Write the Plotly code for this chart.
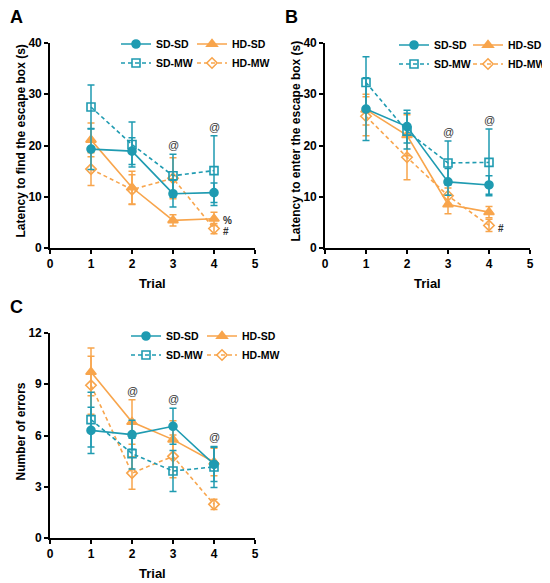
import plotly.graph_objects as go

W, H = 550, 583          # browser window
OFF = 8                  # page body margin
FW, FH = W - OFF, H - OFF
TEAL = "#1f9bb1"
ORANGE = "#f8a54c"
FONT = "Liberation Sans"

trials = [1, 2, 3, 4]
x_ticks = [0, 1, 2, 3, 4, 5]

# Panel A: latency to find the escape box (s)
a_sdsd = [19.3, 18.9, 10.6, 10.8]
a_sdsd_err = [4.0, 2.6, 2.6, 1.9]
a_sdmw = [27.5, 20.2, 14.1, 15.1]
a_sdmw_err = [4.3, 4.4, 4.2, 6.8]
a_hdsd = [21.1, 11.8, 5.4, 5.7]
a_hdsd_err = [3.3, 3.2, 1.1, 1.3]
a_hdmw = [15.4, 11.4, 13.6, 3.8]
a_hdmw_err = [3.2, 2.9, 4.0, 1.0]

# Panel B: latency to enter the escape box (s)
b_sdsd = [27.1, 23.7, 12.9, 12.3]
b_sdsd_err = [6.1, 3.2, 2.6, 1.8]
b_sdmw = [32.3, 22.8, 16.6, 16.7]
b_sdmw_err = [5.0, 3.5, 4.3, 6.5]
b_hdsd = [27.0, 22.0, 8.5, 7.0]
b_hdsd_err = [3.0, 4.0, 1.8, 1.1]
b_hdmw = [25.7, 17.7, 10.2, 4.4]
b_hdmw_err = [3.8, 4.4, 1.5, 1.2]

# Panel C: number of errors
c_sdsd = [6.3, 6.05, 6.54, 4.31]
c_sdsd_err = [1.35, 0.85, 1.05, 1.0]
c_sdmw = [6.93, 4.94, 3.92, 4.16]
c_sdmw_err = [1.6, 0.9, 1.2, 1.2]
c_hdsd = [9.72, 6.79, 5.76, 4.45]
c_hdsd_err = [1.4, 1.3, 1.1, 0.8]
c_hdmw = [8.94, 3.8, 4.78, 1.97]
c_hdmw_err = [1.7, 0.95, 1.25, 0.3]

ticks_ab = [0, 10, 20, 30, 40]
ticks_c = [0, 3, 6, 9, 12]

panel_titles = ["A", "B", "C"]
y_titles = ["Latency to find the escape box (s)",
            "Latency to enter the escape box (s)",
            "Number of errors"]
x_title = "Trial"

# significance marks
a_at = [3, 4]
b_at = [3, 4]
c_at = [2, 3, 4]

fig = go.Figure()

# pixel boxes (window px) for plot areas (left, top, right, bottom)
boxes = [(50, 43, 255, 248), (325, 43, 530, 248), (50, 333, 255, 538)]
# legend column lefts and top (window px)
legend_pos = [((116, 192), 29.5), ((394, 468), 30.5), ((126, 202), 321.5)]

panels = [
    dict(data=[(a_sdsd, a_sdsd_err), (a_sdmw, a_sdmw_err), (a_hdsd, a_hdsd_err), (a_hdmw, a_hdmw_err)],
         ticks=ticks_ab, at=a_at),
    dict(data=[(b_sdsd, b_sdsd_err), (b_sdmw, b_sdmw_err), (b_hdsd, b_hdsd_err), (b_hdmw, b_hdmw_err)],
         ticks=ticks_ab, at=b_at),
    dict(data=[(c_sdsd, c_sdsd_err), (c_sdmw, c_sdmw_err), (c_hdsd, c_hdsd_err), (c_hdmw, c_hdmw_err)],
         ticks=ticks_c, at=c_at),
]

names = ["SD-SD", "SD-MW", "HD-SD", "HD-MW"]
colors = [TEAL, TEAL, ORANGE, ORANGE]
symbols = ["circle", "square-open", "triangle-up", "diamond-open"]
dashes = ["solid", "4px,3px", "solid", "4px,3px"]
draw_order = [2, 3, 0, 1]

annotations = []
layout_axes = {}
legends = {}


def px(xp):
    return (xp - OFF) / FW


def py(yp):
    return 1 - (yp - OFF) / FH


for p, (panel, box) in enumerate(zip(panels, boxes)):
    L, T, R, B = box
    xa = "x" if p == 0 else f"x{p+1}"
    ya = "y" if p == 0 else f"y{p+1}"
    xkey = "xaxis" if p == 0 else f"xaxis{p+1}"
    ykey = "yaxis" if p == 0 else f"yaxis{p+1}"
    leg1 = "legend" if p == 0 else f"legend{2*p+1}"
    leg2 = f"legend{2*p+2}"
    for i in draw_order:
        vals, errs = panel["data"][i]
        fig.add_trace(go.Scatter(
            x=trials, y=vals, name=names[i], mode="lines+markers",
            xaxis=xa, yaxis=ya,
            legend=leg1 if i < 2 else leg2,
            line=dict(color=colors[i], width=1.6, dash=dashes[i]),
            marker=dict(symbol=symbols[i], size=8 if i != 2 else 9, color=colors[i],
                        line=dict(color=colors[i], width=1.6)),
            error_y=dict(type="data", array=errs, visible=True, color=colors[i],
                         thickness=1.5, width=3.5),
            legendrank=i,
        ))
    ticks = panel["ticks"]
    axis_common = dict(showline=True, linecolor="black", linewidth=1.6,
                       ticks="outside", ticklen=4, tickwidth=1.6, tickcolor="black",
                       showgrid=False, zeroline=False, automargin=False,
                       tickfont=dict(family=FONT, size=12, color="black", weight="bold"))
    layout_axes[xkey] = dict(domain=[px(L), px(R)], anchor=ya, range=[0, 5],
                             tickvals=x_ticks, **axis_common)
    layout_axes[ykey] = dict(domain=[py(B), py(T)], anchor=xa,
                             range=[ticks[0], ticks[-1]], tickvals=ticks, **axis_common)
    # legends (two columns)
    (c1, c2), ltop = legend_pos[p]
    for lg, lx in ((leg1, c1), (leg2, c2)):
        legends[lg] = dict(x=px(lx), y=py(ltop), xanchor="left", yanchor="top",
                           bgcolor="rgba(0,0,0,0)", itemwidth=30, tracegroupgap=0,
                           font=dict(family=FONT, size=10.5, color="black", weight="bold"))
    # panel letter
    annotations.append(dict(text=f"<b>{panel_titles[p]}</b>", xref="paper", yref="paper",
                            x=px(L - 34), y=py(T - 26), xanchor="center", yanchor="middle",
                            showarrow=False, font=dict(family=FONT, size=18, color="black")))
    # y title
    annotations.append(dict(text=f"<b>{y_titles[p]}</b>", xref="paper", yref="paper",
                            x=px(L - 29), y=py((T + B) / 2 - 4), textangle=-90,
                            xanchor="center", yanchor="middle",
                            showarrow=False, font=dict(family=FONT, size=12, color="black")))
    # x title
    annotations.append(dict(text=f"<b>{x_title}</b>", xref="paper", yref="paper",
                            x=px((L + R) / 2), y=py(B + 35), xanchor="center", yanchor="middle",
                            showarrow=False, font=dict(family=FONT, size=13, color="black")))
    # '@' marks above the highest error bar at that trial
    for t in panel["at"]:
        k = trials.index(t)
        top = max(v[k] + e[k] for v, e in panel["data"])
        annotations.append(dict(text="@", x=t, y=top, xref=xa, yref=ya, xanchor="center",
                                yanchor="bottom", yshift=1, showarrow=False,
                                font=dict(family=FONT, size=11, color="#333333")))

# '%' and '#' marks beside trial 4
k4 = trials.index(4)
for txt, xr, yr, val, ys in (("%", "x", "y", a_hdsd[k4], -2),
                             ("#", "x", "y", a_hdmw[k4], -3),
                             ("#", "x2", "y2", b_hdmw[k4], -3)):
    annotations.append(dict(text=f"<b>{txt}</b>", x=4, y=val, xref=xr, yref=yr,
                            xanchor="left", yanchor="middle", xshift=7, yshift=ys,
                            showarrow=False, font=dict(family=FONT, size=10, color="#333333")))

fig.update_layout(
    width=FW, height=FH, margin=dict(l=0, r=0, t=0, b=0, autoexpand=False),
    paper_bgcolor="white", plot_bgcolor="white",
    showlegend=True, annotations=annotations,
    font=dict(family=FONT, color="black"),
    **layout_axes, **legends,
)

fig.write_html("out.html")
